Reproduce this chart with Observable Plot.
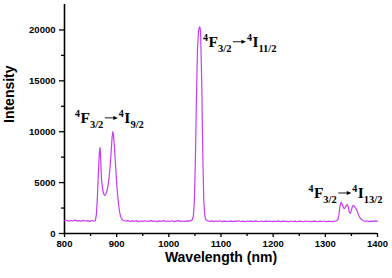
<!DOCTYPE html>
<html>
<head>
<meta charset="utf-8">
<script src="https://cdn.jsdelivr.net/npm/d3@7"></script>
<script src="https://cdn.jsdelivr.net/npm/@observablehq/plot@0.6"></script>
<style>
  html, body { margin: 0; padding: 0; background: #fff; }
  #chart { width: 392px; height: 278px; }
</style>
</head>
<body>
<div id="chart"></div>
<script>
// ---- data ----
const wavelength = [
  800,804,808,812,816,820,824,828,832,836,840,844,848,852,856,859,
  861,863,865,867,868,869,870,871,873,875,877,879,881,883,885,887,889,891,892.5,894,896,898,900,902,904,906,908,910,912,915,
  918,922,926,930,934,938,942,946,950,954,958,962,966,970,974,978,982,986,990,994,998,1002,1006,1010,1014,1018,1022,1026,1030,1034,1038,1042,
  1045,1047,1049,1051,1053,1055,1057,1059,1060,1061,1063,1065,1067,1069,1071,1074,
  1078,1082,1086,1090,1094,1098,1102,1106,1110,1114,1118,1122,1126,1130,1134,1138,1142,1146,1150,1154,1158,1162,1166,1170,1174,1178,1182,1186,1190,
  1194,1198,1202,1206,1210,1214,1218,1222,1226,1230,1234,1238,1242,1246,1250,1254,1258,1262,1266,1270,1274,1278,1282,1286,1290,1294,1298,1302,1306,1310,1314,1318,1321,
  1324,1326,1328,1330,1332,1335,1337,1339,1342,1344,1346,1348,1350,1352,1354,1356,1358,1361,1364,1367,1370,1373,
  1376,1380,1384,1388,1392,1396,1400
];
const intensity = [
  1250,1300,1220,1280,1230,1310,1240,1270,1200,1290,1230,1260,1190,1280,1220,1250,
  1800,3500,6000,8100,8450,7800,6400,5300,4400,3900,3750,3850,4100,4600,5300,6300,7700,9300,10000,9600,8300,6600,5000,3700,2700,2000,1600,1400,1300,1250,
  1210,1270,1180,1240,1200,1260,1170,1230,1190,1250,1180,1220,1270,1190,1230,1170,1240,1200,1260,1180,1230,1200,1250,1170,1220,1260,1190,1230,1180,1240,1210,1260,
  1350,1700,3200,7500,13500,18200,20000,20300,20200,19500,15000,8000,3200,1700,1350,1250,
  1200,1240,1170,1230,1190,1250,1160,1220,1200,1180,1240,1170,1220,1190,1250,1180,1210,1160,1230,1190,1220,1170,1240,1200,1180,1230,1160,1210,1190,
  1230,1170,1210,1180,1240,1160,1220,1190,1200,1170,1230,1180,1210,1150,1220,1190,1170,1230,1180,1200,1160,1220,1190,1170,1210,1180,1230,1160,1200,1190,1170,1220,1250,
  1350,1800,2700,3050,2900,2500,2450,2650,2850,2600,2100,1980,2300,2700,2750,2650,2500,2200,1800,1500,1350,1250,
  1200,1230,1170,1220,1190,1240,1200
];
const xMajor = [800, 900, 1000, 1100, 1200, 1300, 1400];
const xMinor = [850, 950, 1050, 1150, 1250, 1350];
const yMajor = [0, 5000, 10000, 15000, 20000];
const yMinor = [2500, 7500, 12500, 17500];
const xLabel = "Wavelength (nm)";
const yLabel = "Intensity";
// annotations: anchor (wavelength, intensity) of the label's baseline start
const annoX = [821, 1066.5, 1268.5];
const annoY = [10820, 18300, 3440];
const annoFrom = [["4", "F", "3/2"], ["4", "F", "3/2"], ["4", "F", "3/2"]];
const annoTo = [["4", "I", "9/2"], ["4", "I", "11/2"], ["4", "I", "13/2"]];

const data = wavelength.map((w, i) => ({w, v: intensity[i]}));
const lineColor = "#c83cf5";

const plot = Plot.plot({
  width: 392,
  height: 278,
  marginLeft: 64,
  marginRight: 15,
  marginTop: 4,
  marginBottom: 45,
  style: {fontFamily: "'Liberation Sans', Arial, sans-serif", fontSize: "9.5px", fontWeight: "bold", color: "black", background: "white", overflow: "visible"},
  x: {domain: [800, 1400]},
  y: {domain: [0, 22500]},
  marks: [
    Plot.axisX({ticks: xMajor, tickSize: 4, tickPadding: 2.5, strokeWidth: 1.3, tickFormat: d3.format("d"), label: null}),
    Plot.axisX({ticks: xMinor, tickSize: 3, strokeWidth: 1.3, tickFormat: () => "", label: null}),
    Plot.axisY({ticks: yMajor, tickSize: 5, tickPadding: 4, strokeWidth: 1.3, tickFormat: d3.format("d"), label: null}),
    Plot.axisY({ticks: yMinor, tickSize: 3, strokeWidth: 1.3, tickFormat: () => "", label: null}),
    Plot.ruleX([800], {strokeWidth: 1.6}),
    Plot.ruleY([0], {strokeWidth: 1.6}),
    Plot.line(data, {x: "w", y: "v", stroke: lineColor, strokeWidth: 1.2}),
    Plot.text([xLabel], {frameAnchor: "bottom", dy: 28.5, fontSize: 14, fontWeight: "bold", text: d => d}),
    Plot.text([yLabel], {frameAnchor: "left", rotate: -90, dx: -55, dy: 4, fontSize: 14, fontWeight: "bold", text: d => d})
  ]
});
document.getElementById("chart").appendChild(plot);

// annotation labels with superscripts/subscripts
const sx = plot.scale("x"), sy = plot.scale("y");
const fx = d3.scaleLinear(sx.domain, sx.range);
const fy = d3.scaleLinear(sy.domain, sy.range);
const svg = d3.select(plot);
const serif = "'Liberation Serif', 'Times New Roman', serif";

function part(g, x, y, p) {
  const t = g.append("text")
    .attr("x", x).attr("y", y).attr("text-anchor", "start")
    .attr("font-family", serif).attr("font-weight", "bold").attr("fill", "black");
  t.append("tspan").attr("font-size", 10).attr("dy", -6).text(p[0]);
  t.append("tspan").attr("font-size", 15.5).attr("dy", 6).attr("dx", 0.5).text(p[1]);
  t.append("tspan").attr("font-size", 10.5).attr("dy", 5).text(p[2]);
  return t.node().getBBox();
}

annoX.forEach((ax, i) => {
  const x0 = fx(ax), y0 = fy(annoY[i]);
  const g = svg.append("g");
  const b = part(g, x0, y0, annoFrom[i]);
  const a0 = b.x + b.width + 1.5, a1 = a0 + 13, ay = y0 - 5;
  g.append("line").attr("x1", a0).attr("x2", a1 - 3).attr("y1", ay).attr("y2", ay)
    .attr("stroke", "black").attr("stroke-width", 0.9);
  g.append("path").attr("d", `M${a1 - 4.5},${ay - 2} L${a1},${ay} L${a1 - 4.5},${ay + 2} Z`).attr("fill", "black");
  part(g, a1 + 1, y0, annoTo[i]);
});
</script>
</body>
</html>
